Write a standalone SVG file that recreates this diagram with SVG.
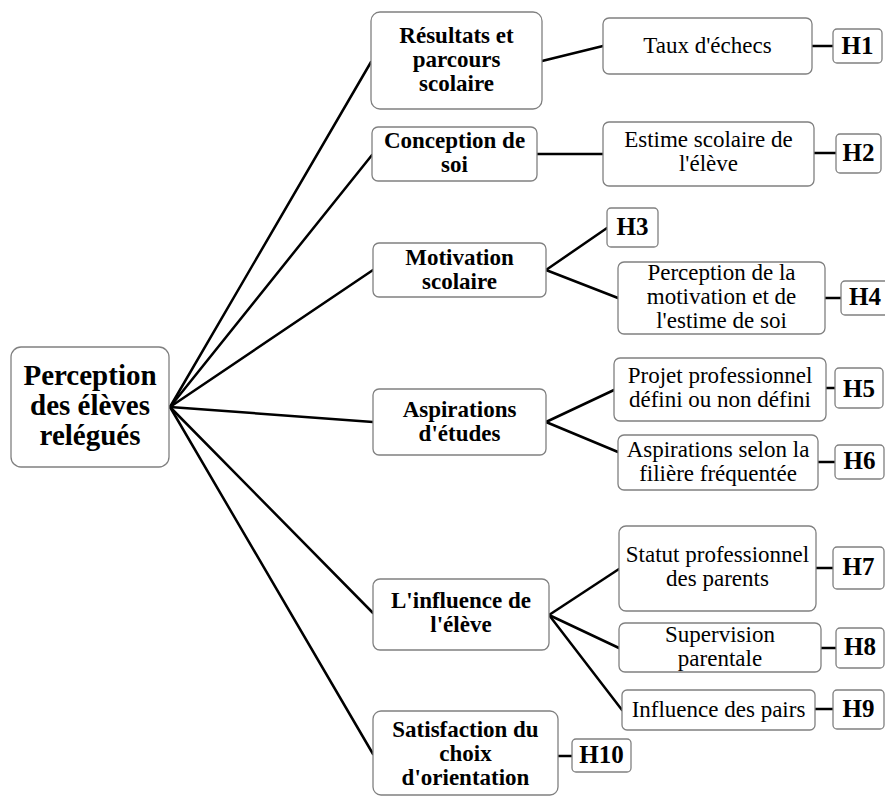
<svg xmlns="http://www.w3.org/2000/svg" width="885" height="796" viewBox="0 0 885 796">
<style>
.box{fill:#fff;stroke:#808080;stroke-width:1.3}
.t{font-family:"Liberation Serif","Times New Roman",serif;fill:#000;text-anchor:middle}
.r{font-size:23px}
.b{font-size:23px;font-weight:bold}
.root{font-size:29px;font-weight:bold}
.h{font-size:25px;font-weight:bold}
#connectors line{stroke:#000;stroke-width:2.5;stroke-linecap:round}
</style>
<rect width="885" height="796" fill="#fff"/>
<g id="connectors">
<line x1="170" y1="407" x2="371" y2="62"/>
<line x1="170" y1="407" x2="372" y2="155"/>
<line x1="170" y1="407" x2="373" y2="270"/>
<line x1="170" y1="407" x2="373" y2="422"/>
<line x1="170" y1="407" x2="373" y2="613"/>
<line x1="170" y1="407" x2="373" y2="754"/>
<line x1="542" y1="61" x2="603" y2="46"/>
<line x1="537" y1="154" x2="603" y2="154"/>
<line x1="546" y1="270" x2="607" y2="228"/>
<line x1="546" y1="270" x2="618" y2="298"/>
<line x1="546" y1="422" x2="614" y2="390"/>
<line x1="546" y1="422" x2="618" y2="452"/>
<line x1="549" y1="615" x2="619" y2="569"/>
<line x1="549" y1="615" x2="619" y2="648"/>
<line x1="549" y1="615" x2="622" y2="710"/>
<line x1="558" y1="756" x2="572" y2="756"/>
<line x1="812" y1="46" x2="833" y2="46"/>
<line x1="814" y1="153" x2="836" y2="153"/>
<line x1="825" y1="298" x2="841" y2="298"/>
<line x1="826" y1="388" x2="835" y2="388"/>
<line x1="818" y1="462" x2="835" y2="462"/>
<line x1="816" y1="568" x2="833" y2="568"/>
<line x1="821" y1="648" x2="836" y2="648"/>
<line x1="815" y1="709" x2="833" y2="709"/>
</g>
<g id="root">
<rect class="box" x="11" y="347" width="158" height="120" rx="10"/>
<text class="t root" x="90" y="385">Perception</text>
<text class="t root" x="90" y="415">des élèves</text>
<text class="t root" x="90" y="445">relégués</text>
</g>
<g id="n-resultats">
<rect class="box" x="371" y="12" width="171" height="97" rx="9"/>
<text class="t b" x="456.5" y="43">Résultats et</text>
<text class="t b" x="456.5" y="67">parcours</text>
<text class="t b" x="456.5" y="91">scolaire</text>
</g>
<g id="n-conception">
<rect class="box" x="372" y="127" width="165" height="54" rx="6"/>
<text class="t b" x="454.5" y="148">Conception de</text>
<text class="t b" x="454.5" y="172">soi</text>
</g>
<g id="n-motivation">
<rect class="box" x="373" y="243" width="173" height="54" rx="6"/>
<text class="t b" x="459.5" y="265">Motivation</text>
<text class="t b" x="459.5" y="289">scolaire</text>
</g>
<g id="n-aspirations">
<rect class="box" x="373" y="389" width="173" height="66" rx="6"/>
<text class="t b" x="459.5" y="417">Aspirations</text>
<text class="t b" x="459.5" y="441">d'études</text>
</g>
<g id="n-influence">
<rect class="box" x="373" y="579" width="176" height="71" rx="7"/>
<text class="t b" x="461" y="608">L'influence de</text>
<text class="t b" x="461" y="632">l'élève</text>
</g>
<g id="n-satisfaction">
<rect class="box" x="373" y="711" width="185" height="84" rx="8"/>
<text class="t b" x="465.5" y="737">Satisfaction du</text>
<text class="t b" x="465.5" y="761">choix</text>
<text class="t b" x="465.5" y="785">d'orientation</text>
</g>
<g id="n-taux">
<rect class="box" x="603" y="18" width="209" height="56" rx="6"/>
<text class="t r" x="707.5" y="53">Taux d'échecs</text>
</g>
<g id="n-estime">
<rect class="box" x="603" y="122" width="211" height="64" rx="6"/>
<text class="t r" x="708.5" y="147">Estime scolaire de</text>
<text class="t r" x="708.5" y="171">l'élève</text>
</g>
<g id="n-perception-motivation">
<rect class="box" x="618" y="262" width="207" height="72" rx="6"/>
<text class="t r" x="721.5" y="280">Perception de la</text>
<text class="t r" x="721.5" y="304">motivation et de</text>
<text class="t r" x="721.5" y="328">l'estime de soi</text>
</g>
<g id="n-projet">
<rect class="box" x="614" y="358" width="212" height="63" rx="6"/>
<text class="t r" x="720" y="383">Projet professionnel</text>
<text class="t r" x="720" y="407">défini ou non défini</text>
</g>
<g id="n-aspirations-filiere">
<rect class="box" x="618" y="435" width="200" height="55" rx="6"/>
<text class="t r" x="718" y="457">Aspirations selon la</text>
<text class="t r" x="718" y="481">filière fréquentée</text>
</g>
<g id="n-statut">
<rect class="box" x="619" y="526" width="197" height="85" rx="7"/>
<text class="t r" x="717.5" y="562">Statut professionnel</text>
<text class="t r" x="717.5" y="586">des parents</text>
</g>
<g id="n-supervision">
<rect class="box" x="619" y="623" width="202" height="49" rx="6"/>
<text class="t r" x="720" y="642">Supervision</text>
<text class="t r" x="720" y="666">parentale</text>
</g>
<g id="n-pairs">
<rect class="box" x="622" y="690" width="193" height="40" rx="5"/>
<text class="t r" x="718.5" y="717">Influence des pairs</text>
</g>
<g id="h1"><rect class="box" x="833" y="29" width="49" height="34" rx="4"/><text class="t h" x="857.5" y="54">H1</text></g>
<g id="h2"><rect class="box" x="836" y="134" width="45" height="39" rx="4"/><text class="t h" x="858.5" y="161">H2</text></g>
<g id="h3"><rect class="box" x="607" y="208" width="51" height="39" rx="4"/><text class="t h" x="632.5" y="235">H3</text></g>
<g id="h4"><rect class="box" x="841" y="281" width="48" height="34" rx="4"/><text class="t h" x="865" y="305">H4</text></g>
<g id="h5"><rect class="box" x="835" y="368" width="48" height="40" rx="4"/><text class="t h" x="859" y="397">H5</text></g>
<g id="h6"><rect class="box" x="835" y="445" width="49" height="34" rx="4"/><text class="t h" x="859.5" y="469">H6</text></g>
<g id="h7"><rect class="box" x="833" y="547" width="51" height="42" rx="4"/><text class="t h" x="858.5" y="575">H7</text></g>
<g id="h8"><rect class="box" x="836" y="628" width="48" height="40" rx="4"/><text class="t h" x="860" y="655">H8</text></g>
<g id="h9"><rect class="box" x="833" y="690" width="51" height="39" rx="4"/><text class="t h" x="858.5" y="717">H9</text></g>
<g id="h10"><rect class="box" x="572" y="739" width="59" height="33" rx="4"/><text class="t h" x="601.5" y="763">H10</text></g>
</svg>
